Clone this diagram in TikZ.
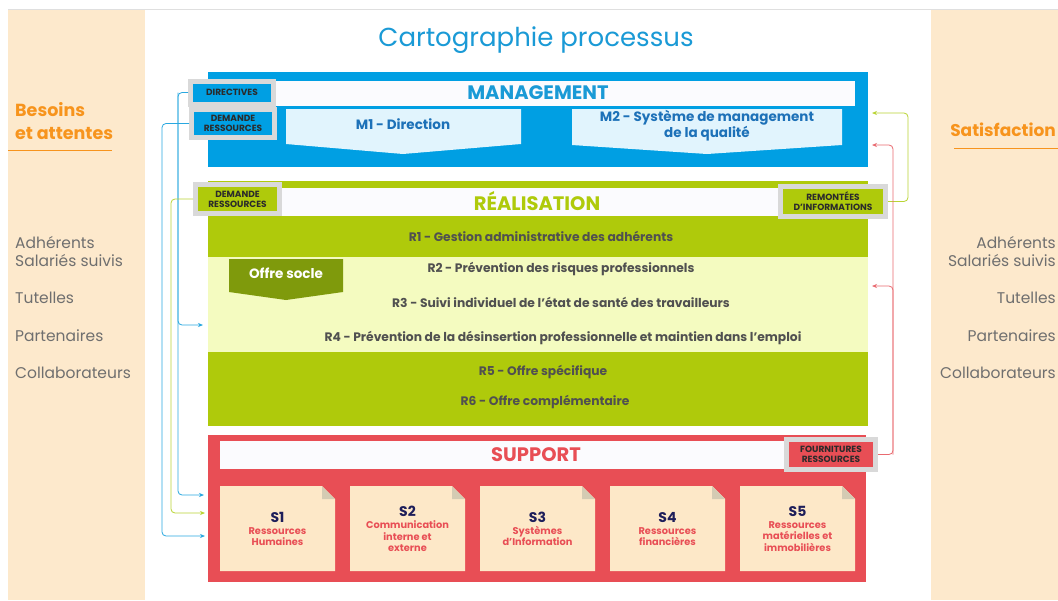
\documentclass[tikz,border=0pt]{standalone}
\usepackage{fontspec}
\setmainfont{Poppins}
\usetikzlibrary{arrows.meta}
\definecolor{panel}{HTML}{FDE9CC}
\definecolor{orangetx}{HTML}{F7941D}
\definecolor{mblue}{HTML}{009FE3}
\definecolor{titleblue}{HTML}{1A9AD6}
\definecolor{lightblue}{HTML}{E1F4FD}
\definecolor{mtext}{HTML}{1D71B8}
\definecolor{rgreen}{HTML}{AFCA0B}
\definecolor{lyellow}{HTML}{F4FBC0}
\definecolor{olive}{HTML}{7F9A0C}
\definecolor{sred}{HTML}{E84E55}
\definecolor{sfill}{HTML}{FDE8C8}
\definecolor{foldc}{HTML}{D4CBB3}
\definecolor{labgray}{HTML}{D9D9D9}
\definecolor{hwhite}{HTML}{FBFBFE}
\definecolor{rtext}{HTML}{505050}
\definecolor{navy}{HTML}{1E1E5A}
\definecolor{sidetx}{HTML}{6F6F6F}
\definecolor{lblue}{HTML}{29A8E0}
\definecolor{lgreen}{HTML}{B9D433}
\definecolor{lred}{HTML}{E96A70}
\definecolor{labtx}{HTML}{2B2B2B}
\tikzset{
  labbox/.style={draw=labgray, line width=5pt, inner sep=0pt, align=center,
    text=labtx, font=\fontsize{9}{9.8}\selectfont\bfseries},
  conn/.style={line width=0.8pt, rounded corners=4pt, -{Stealth[length=5pt,width=4pt]}},
  rtxt/.style={text=rtext, font=\fontsize{12.3}{14}\selectfont\bfseries},
  head/.style={font=\fontsize{19.5}{22}\selectfont\bfseries},
  side/.style={text=sidetx, font=\fontsize{15.5}{18}\selectfont},
  stext/.style={align=center, text=sred, font=\fontsize{9.8}{11.8}\selectfont\bfseries, inner sep=0pt},
}
\newcommand\stitle{\fontsize{14}{13}\selectfont\color{navy}}
\newcommand\SupBox[3]{%
  \fill[sfill] (#1,486) -- (#1+102,486) -- (#1+115,499) -- (#1+115,571) -- (#1,571) -- cycle;
  \fill[foldc] (#1+102,486) -- (#1+115,499) -- (#1+102,499) -- cycle;
  \node[stext] (s#2) at (#1+57.5,529) {{\stitle S#2}\\[0pt]#3};}
\begin{document}
\begin{tikzpicture}[x=1pt,y=-1pt]
\useasboundingbox (0,0) rectangle (1058,600);
\clip (0,0) rectangle (1058,600);
\fill[white] (0,0) rectangle (1058,600);
\draw[gray!25, line width=0.8pt] (8,9.5) -- (1058,9.5);
% side panels
\fill[panel] (8,10) rectangle (145,600);
\fill[panel] (931,10) rectangle (1058,600);
\node[anchor=west, align=left, text=orangetx, font=\fontsize{17.5}{23}\selectfont\bfseries, inner sep=0pt] (besoins) at (15,121.5) {Besoins\\et attentes};
\draw[orangetx, line width=0.8pt] (8,150) -- (112,150);
\node[anchor=east, text=orangetx, font=\fontsize{17}{20}\selectfont\bfseries, inner sep=0pt] (satis) at (1056,130) {Satisfaction};
\draw[orangetx, line width=0.8pt] (954,148.5) -- (1058,148.5);
\node[side, anchor=west, align=left, inner sep=0pt] (la) at (15,252) {Adhérents\\Salariés suivis};
\node[side, anchor=west, inner sep=0pt] (lt) at (15,298) {Tutelles};
\node[side, anchor=west, inner sep=0pt] (lp) at (15,336) {Partenaires};
\node[side, anchor=west, inner sep=0pt] (lc) at (15,373) {Collaborateurs};
\node[side, anchor=east, align=right, inner sep=0pt] (ra) at (1056,252) {Adhérents\\Salariés suivis};
\node[side, anchor=east, inner sep=0pt] (rt) at (1056,298) {Tutelles};
\node[side, anchor=east, inner sep=0pt] (rp) at (1056,336) {Partenaires};
\node[side, anchor=east, inner sep=0pt] (rc) at (1056,373) {Collaborateurs};
% title
\node[text=titleblue, font=\fontsize{26}{28}\selectfont] (title) at (536,40) {Cartographie processus};
% management
\fill[mblue] (208,72) rectangle (868,167);
\fill[hwhite] (220,81) rectangle (855,106);
\node[head, text=titleblue] (mg) at (538,93) {MANAGEMENT};
\fill[lightblue] (286,109) -- (521,109) -- (521,144) -- (403,154) -- (286,144) -- cycle;
\fill[lightblue] (572,109) -- (842,109) -- (842,145) -- (707,154) -- (572,145) -- cycle;
\node[text=mtext, font=\fontsize{13.5}{16}\selectfont\bfseries] (m1) at (403,124) {M1 - Direction};
\node[text=mtext, font=\fontsize{13.5}{16}\selectfont\bfseries, align=center] (m2) at (707,126) {M2 - Système de management\\de la qualité};
% realisation
\fill[rgreen] (208,181) rectangle (868,426);
\fill[hwhite] (208,188) rectangle (867,216);
\fill[lyellow] (208,257) rectangle (868,352);
\node[head, text=rgreen] (re) at (537,201) {RÉALISATION};
\node[rtxt] (r1) at (541,236) {R1 - Gestion administrative des adhérents};
\fill[olive] (229,259) -- (343,259) -- (343,292) -- (286,300) -- (229,292) -- cycle;
\node[text=white, font=\fontsize{13.5}{15}\selectfont\bfseries] (os) at (286,273) {Offre socle};
\node[rtxt] (r2) at (561,269) {R2 - Prévention des risques professionnels};
\node[rtxt] (r3) at (561,302) {R3 - Suivi individuel de l’état de santé des travailleurs};
\node[rtxt] (r4) at (563,338) {R4 - Prévention de la désinsertion professionnelle et maintien dans l’emploi};
\node[rtxt] (r5) at (543,372) {R5 - Offre spécifique};
\node[rtxt] (r6) at (545,402) {R6 - Offre complémentaire};
% support
\fill[sred] (208,435) rectangle (866,582);
\fill[hwhite] (220,441) rectangle (855,469);
\node[head, text=sred] (su) at (536,455) {SUPPORT};
\SupBox{220}{1}{Ressources\\Humaines}
\SupBox{350}{2}{Communication\\interne et\\externe}
\SupBox{480}{3}{Systèmes\\d’Information}
\SupBox{610}{4}{Ressources\\financières}
\SupBox{740}{5}{Ressources\\matérielles et\\immobilières}
% labels
\node[labbox, fill=mblue, minimum width=83pt, minimum height=23pt] (dir) at (232,92.5) {DIRECTIVES};
\node[labbox, fill=mblue, minimum width=83pt, minimum height=28pt] (dem1) at (233,123.5) {DEMANDE\\RESSOURCES};
\node[labbox, fill=rgreen, minimum width=84pt, minimum height=29pt] (dem2) at (237.5,199) {DEMANDE\\RESSOURCES};
\node[labbox, fill=rgreen, minimum width=105pt, minimum height=30pt] (rem) at (833,201.5) {REMONTÉES\\D’INFORMATIONS};
\node[labbox, fill=sred, minimum width=89pt, minimum height=30pt] (fou) at (831,454.5) {FOURNITURES\\RESSOURCES};
% connector targets
\coordinate (tR4) at (203,325);
\coordinate (tS1a) at (204,495);
\coordinate (tS1b) at (205,513);
\coordinate (tS1c) at (205,536);
\coordinate (tM1) at (872,113);
\coordinate (tM2) at (872,145);
\coordinate (tR3) at (872,286);
% connectors
\draw[conn, lblue] (dir.west) -- ++(-10,0) coordinate (dv) |- (tR4);
\draw[conn, lblue] (dv) |- (tS1a);
\draw[conn, lblue] (dem1.west) -- ++(-27,0) |- (tS1c);
\draw[conn, lgreen] (dem2.west) -- ++(-22,0) |- (tS1b);
\draw[conn, lgreen] (rem.east) -- ++(20,0) |- (tM1);
\draw[conn, lred] (fou.east) -- ++(15,0) coordinate (fv) |- (tM2);
\draw[conn, lred] (fv) |- (tR3);
\end{tikzpicture}
\end{document}
